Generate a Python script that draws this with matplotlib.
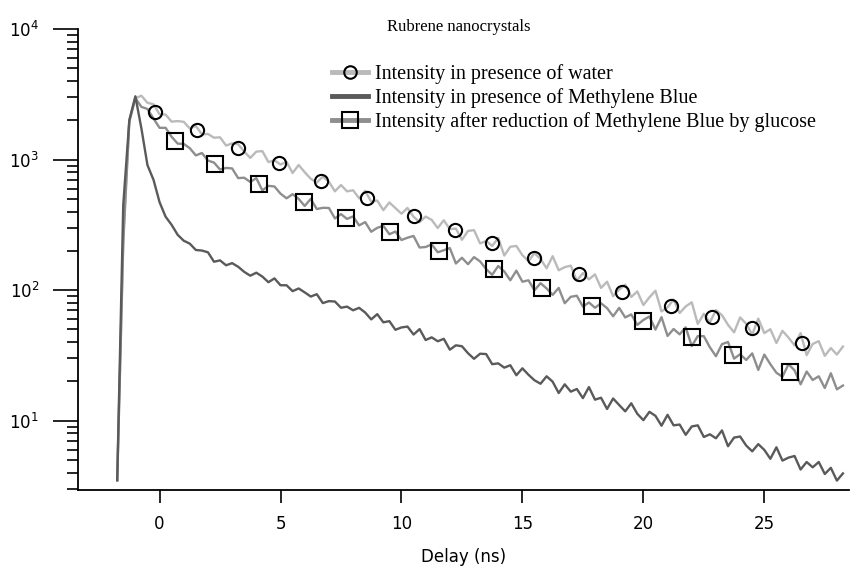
import numpy as np
import matplotlib
matplotlib.use("Agg")
import matplotlib.pyplot as plt
from matplotlib.lines import Line2D

# --- data (counts vs delay in ns) ---
# time base of the decay traces: -1.75 ns to 28.25 ns, 0.25 ns channels
delay = np.arange(-1.75, 28.3, 0.25)

water = [3.5, 250, 2000, 2950, 3080, 2720, 2650, 2220, 2210, 1950,
         1970, 1945, 1730, 1810, 1560, 1570, 1470, 1480, 1280, 1330,
         1310, 1150, 1030, 1150, 1160, 957, 986, 916, 959, 789,
         908, 800, 713, 667, 740, 676, 571, 638, 571, 582,
         505, 575, 476, 485, 410, 469, 425, 385, 426, 365,
         332, 366, 345, 299, 343, 293, 296, 243, 284, 288,
         228, 238, 218, 251, 184, 215, 218, 185, 167, 192,
         173, 147, 182, 142, 150, 154, 118, 135, 121, 132,
         104, 116, 90, 101, 110, 88.7, 97.7, 76.9, 88.1, 98.9,
         68.7, 74.0, 84.7, 66.8, 75.0, 80.7, 55.1, 65.9, 56.5, 70.3,
         64.3, 54.2, 47.5, 61.8, 55.3, 45.6, 60.5, 46.9, 50.2, 39.4,
         48.8, 43.3, 37.8, 46.9, 31.8, 38.7, 40.7, 31.4, 36.0, 32.1,
         37.0]

methylene_blue = [3.5, 450, 2000, 3050, 1730, 906, 700, 472, 365, 316,
                  265, 239, 227, 203, 201, 195, 165, 169, 155, 161,
                  151, 138, 129, 136, 127, 115, 123, 109, 109, 98.2,
                  103, 96.2, 89.3, 93.1, 79.6, 82.4, 81.8, 73.3, 74.8, 70.1,
                  73.2, 67.4, 59.7, 65.5, 56.7, 57.9, 49.7, 51.8, 52.6, 45.7,
                  50.3, 41.5, 43.5, 40.6, 42.4, 35.0, 37.8, 37.2, 32.9, 29.8,
                  32.6, 32.4, 27.1, 27.5, 25.5, 26.6, 22.3, 25.2, 22.5, 20.4,
                  19.2, 21.9, 19.9, 16.3, 19.0, 16.7, 17.5, 14.9, 18.1, 14.5,
                  15.0, 12.3, 14.8, 13.2, 11.8, 13.6, 11.3, 10.1, 11.7, 10.9,
                  9.16, 11.1, 9.22, 9.35, 7.80, 9.04, 9.22, 7.51, 7.87, 7.34,
                  8.43, 6.38, 7.43, 7.57, 6.46, 5.83, 6.62, 5.98, 5.11, 6.26,
                  4.95, 5.22, 5.37, 4.23, 4.83, 4.40, 4.83, 3.91, 4.36, 3.48,
                  3.95]

glucose = [3.5, 230, 1950, 2950, 2530, 2440, 2060, 1750, 1750, 1493,
           1324, 1318, 1222, 1076, 1122, 982, 948, 839, 863, 855,
           721, 726, 673, 721, 580, 629, 622, 548, 505, 543,
           500, 441, 500, 418, 427, 426, 354, 382, 351, 367,
           313, 332, 280, 300, 311, 268, 281, 242, 252, 260,
           212, 214, 224, 195, 202, 210, 160, 177, 158, 179,
           166, 145, 131, 153, 139, 119, 141, 116, 119, 99.8,
           113, 103, 92.0, 104, 79.4, 88.9, 90.6, 74.8, 80.5, 73.3,
           79.3, 72.8, 63.1, 73.1, 61.8, 65.2, 54.2, 59.1, 62.8, 49.9,
           62.1, 44.6, 50.4, 45.9, 51.9, 37.3, 44.5, 44.4, 36.5, 31.2,
           38.6, 40.1, 29.9, 32.3, 29.2, 32.8, 24.5, 32.1, 27.1, 23.3,
           21.7, 27.1, 24.3, 19.0, 23.8, 20.5, 21.9, 17.8, 23.1, 17.4,
           18.6]

# symbols drawn over the traces
water_sym_x = [-0.19, 1.54, 3.23, 4.94, 6.67, 8.59, 10.52, 12.21,
               13.75, 15.48, 17.35, 19.12, 21.14, 22.84, 24.50, 26.56]
water_sym_y = [2330, 1690, 1230, 947, 689, 505, 372, 289,
               229, 177, 132, 97.4, 75.7, 62.0, 51.6, 39.2]

glucose_sym_x = [0.64, 2.29, 4.12, 5.97, 7.69, 9.52, 11.56,
                 13.82, 15.79, 17.88, 19.99, 22.02, 23.71, 26.05]
glucose_sym_y = [1390, 920, 651, 476, 355, 278, 201,
                 145, 104.5, 75.7, 58.1, 43.6, 31.9, 23.5]

labels = ["Intensity in presence of water",
          "Intensity in presence of Methylene Blue",
          "Intensity after reduction of Methylene Blue by glucose"]
colors = ["#bababa", "#5a5a5a", "#8e8e8e"]

# --- figure ---
fig = plt.figure(figsize=(8.5, 5.7), dpi=100)
ax = fig.add_axes([0.0918, 0.1404, 0.907, 0.8088])

ax.plot(delay, water, color=colors[0], lw=1.7)
ax.plot(delay, glucose, color=colors[2], lw=1.7)
ax.plot(delay, methylene_blue, color=colors[1], lw=1.7)

ax.plot(water_sym_x, water_sym_y, ls="none", marker="o", ms=9.5,
        mfc="none", mec="black", mew=1.5)
ax.plot(glucose_sym_x, glucose_sym_y, ls="none", marker="s", ms=12,
        mfc="none", mec="black", mew=1.5)

ax.set_yscale("log")
ax.set_xlim(-3.37, 28.5)
ax.set_ylim(2.95, 1e4)
ax.set_xticks([0, 5, 10, 15, 20, 25])
ax.set_yticks([10, 100, 1000, 10000])
ax.set_yticklabels(["$10^{1}$", "$10^{2}$", "$10^{3}$", "$10^{4}$"])

for side in ["top", "right"]:
    ax.spines[side].set_visible(False)
for side in ["left", "bottom"]:
    ax.spines[side].set_linewidth(1.3)

ax.tick_params(axis="y", which="major", direction="out", length=18, width=1.2,
               pad=10, labelsize=12)
ax.tick_params(axis="y", which="minor", direction="out", length=8, width=1.2)
ax.tick_params(axis="x", which="major", direction="out", length=9, width=1.2,
               pad=9, labelsize=12)
ax.tick_params(axis="x", which="minor", bottom=False)

ax.set_xlabel("Delay (ns)", fontsize=12, labelpad=11)

fig.text(459 / 850, 1 - 27 / 570, "Rubrene nanocrystals", ha="center",
         va="center", family="Liberation Serif", fontsize=12)

handles = [
    Line2D([], [], color=colors[0], lw=3.5, marker="o", ms=9, mfc="none",
           mec="black", mew=1.5),
    Line2D([], [], color=colors[1], lw=3.5),
    Line2D([], [], color=colors[2], lw=3.5, marker="s", ms=11, mfc="none",
           mec="black", mew=1.5),
]
fig.legend(handles, labels, loc="upper left",
           bbox_to_anchor=(332 / 850, 1 - 64 / 570), frameon=False,
           prop={"family": "Liberation Serif", "size": 14.5},
           handlelength=1.8, handletextpad=0.35, labelspacing=0.2,
           borderaxespad=0, borderpad=0)

fig.savefig("out.png", dpi=100)
